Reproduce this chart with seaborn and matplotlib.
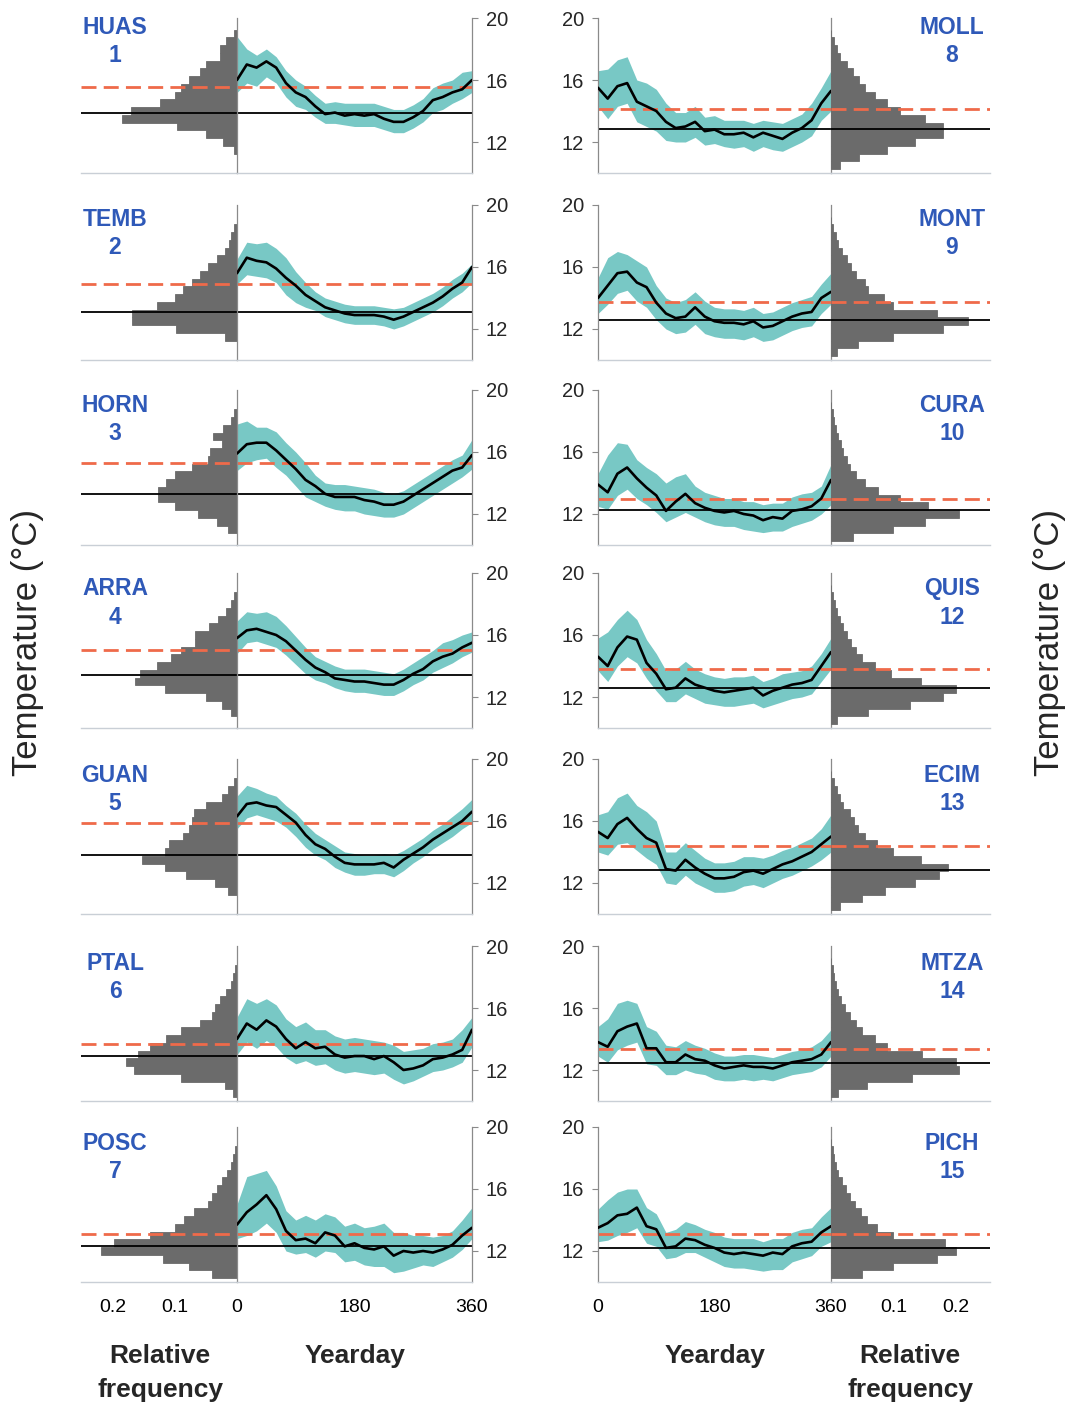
import numpy as np
import pandas as pd
import matplotlib
matplotlib.use("Agg")
import matplotlib.pyplot as plt
import seaborn as sns

sns.set_style("white")
plt.rcParams['font.family'] = ['Liberation Sans', 'DejaVu Sans']

# ---- data ----
days = list(range(0, 361, 15))
hist_bins = [10.5, 11, 11.5, 12, 12.5, 13, 13.5, 14, 14.5, 15, 15.5, 16, 16.5, 17, 17.5, 18, 18.5, 19]

site_names = ["HUAS", "TEMB", "HORN", "ARRA", "GUAN", "PTAL", "POSC",
              "MOLL", "MONT", "CURA", "QUIS", "ECIM", "MTZA", "PICH"]
site_numbers = ["1", "2", "3", "4", "5", "6", "7", "8", "9", "10", "12", "13", "14", "15"]
median_line = [13.9, 13.1, 13.3, 13.4, 13.8, 12.9, 12.3, 12.85, 12.55, 12.25, 12.6, 12.85, 12.45, 12.2]
dashed_line = [15.55, 14.9, 15.3, 15.05, 15.9, 13.65, 13.1, 14.15, 13.75, 12.95, 13.8, 14.4, 13.35, 13.1]

huas_mean = [16.0, 17.0, 16.8, 17.2, 16.8, 15.8, 15.2, 14.9, 14.3, 13.8, 13.9, 13.7, 13.8, 13.7, 13.8, 13.5, 13.3, 13.3, 13.6, 14.0, 14.7, 14.9, 15.2, 15.4, 16.0]
huas_hi = [18.8, 18.0, 17.6, 18.0, 17.5, 16.6, 16.0, 15.6, 15.0, 14.5, 14.6, 14.5, 14.5, 14.5, 14.5, 14.3, 14.1, 14.1, 14.4, 14.8, 15.5, 15.8, 16.0, 16.5, 16.6]
huas_lo = [15.2, 15.8, 15.6, 16.2, 15.8, 14.9, 14.3, 14.1, 13.6, 13.2, 13.2, 13.1, 13.0, 13.0, 13.0, 12.8, 12.6, 12.6, 12.9, 13.3, 13.9, 14.1, 14.5, 14.8, 15.2]
huas_hist = [0, 0, 0.005, 0.022, 0.05, 0.097, 0.185, 0.172, 0.124, 0.10, 0.09, 0.078, 0.06, 0.05, 0.028, 0.028, 0.018, 0.005]

temb_mean = [15.6, 16.6, 16.4, 16.3, 15.9, 15.3, 14.8, 14.2, 13.8, 13.4, 13.2, 13.0, 12.9, 12.9, 12.9, 12.8, 12.6, 12.8, 13.1, 13.4, 13.7, 14.1, 14.6, 15.0, 16.0]
temb_hi = [16.5, 17.6, 17.5, 17.6, 17.2, 16.6, 15.7, 15.0, 14.4, 14.0, 13.8, 13.6, 13.5, 13.5, 13.5, 13.4, 13.3, 13.4, 13.7, 14.0, 14.3, 14.7, 15.2, 15.6, 16.2]
temb_lo = [14.9, 15.5, 15.4, 15.3, 15.0, 14.2, 13.7, 13.4, 13.2, 12.8, 12.6, 12.4, 12.3, 12.3, 12.3, 12.2, 12.0, 12.2, 12.5, 12.8, 13.1, 13.5, 14.0, 14.4, 15.0]
temb_hist = [0, 0, 0.02, 0.099, 0.17, 0.17, 0.13, 0.10, 0.087, 0.073, 0.06, 0.047, 0.032, 0.02, 0.013, 0.01, 0.005, 0]

horn_mean = [15.9, 16.5, 16.6, 16.6, 16.1, 15.5, 14.9, 14.2, 13.8, 13.3, 13.1, 13.1, 13.1, 12.9, 12.8, 12.6, 12.6, 12.8, 13.2, 13.6, 14.0, 14.4, 14.8, 15.0, 15.8]
horn_hi = [17.8, 18.0, 17.6, 17.6, 17.3, 16.6, 16.0, 15.3, 14.5, 14.0, 13.9, 13.9, 13.8, 13.7, 13.6, 13.4, 13.3, 13.5, 13.9, 14.3, 14.7, 15.1, 15.5, 15.8, 16.8]
horn_lo = [14.8, 15.3, 15.5, 15.6, 15.0, 14.5, 13.8, 13.1, 12.8, 12.5, 12.3, 12.2, 12.2, 12.0, 11.9, 11.8, 11.8, 12.0, 12.4, 12.8, 13.2, 13.6, 14.0, 14.4, 14.9]
horn_hist = [0, 0.015, 0.032, 0.063, 0.10, 0.128, 0.128, 0.115, 0.10, 0.073, 0.047, 0.044, 0.025, 0.039, 0.022, 0.01, 0.005, 0]

arra_mean = [15.8, 16.3, 16.4, 16.2, 16.0, 15.6, 15.0, 14.4, 13.9, 13.6, 13.2, 13.1, 13.0, 13.0, 12.9, 12.8, 12.8, 13.1, 13.5, 13.8, 14.3, 14.6, 14.8, 15.2, 15.5]
arra_hi = [16.9, 17.5, 17.4, 17.5, 17.2, 16.6, 15.9, 15.2, 14.6, 14.3, 14.0, 13.8, 13.8, 13.8, 13.7, 13.6, 13.5, 13.8, 14.2, 14.6, 15.0, 15.5, 15.7, 16.0, 16.2]
arra_lo = [14.8, 15.5, 15.6, 15.4, 15.2, 14.7, 14.1, 13.5, 13.1, 12.9, 12.6, 12.4, 12.3, 12.3, 12.2, 12.1, 12.1, 12.4, 12.8, 13.1, 13.6, 13.9, 14.2, 14.6, 14.9]
arra_hist = [0, 0.01, 0.025, 0.05, 0.116, 0.164, 0.156, 0.13, 0.107, 0.09, 0.068, 0.068, 0.045, 0.03, 0.018, 0.01, 0.005, 0]

guan_mean = [16.3, 17.1, 17.2, 17.0, 16.9, 16.4, 15.9, 15.1, 14.5, 14.2, 13.7, 13.3, 13.2, 13.2, 13.2, 13.3, 13.0, 13.5, 13.9, 14.3, 14.8, 15.2, 15.6, 16.0, 16.6]
guan_hi = [17.6, 18.3, 18.1, 17.8, 17.6, 17.0, 16.5, 15.8, 15.2, 14.8, 14.4, 14.0, 13.9, 13.8, 13.8, 13.9, 13.8, 14.1, 14.5, 14.9, 15.4, 15.8, 16.3, 16.8, 17.4]
guan_lo = [15.5, 16.2, 16.4, 16.2, 16.0, 15.6, 15.0, 14.3, 13.8, 13.5, 13.0, 12.7, 12.5, 12.5, 12.6, 12.6, 12.4, 12.8, 13.3, 13.7, 14.2, 14.6, 15.0, 15.5, 15.9]
guan_hist = [0, 0, 0.015, 0.035, 0.083, 0.116, 0.153, 0.116, 0.11, 0.087, 0.078, 0.073, 0.07, 0.05, 0.025, 0.015, 0.005, 0]

ptal_mean = [14.0, 15.0, 14.6, 15.2, 14.8, 14.0, 13.4, 13.8, 13.4, 13.5, 13.0, 12.8, 12.9, 12.9, 12.7, 12.9, 12.5, 12.0, 12.1, 12.3, 12.7, 12.8, 13.0, 13.3, 14.6]
ptal_hi = [15.4, 16.6, 16.3, 16.6, 16.2, 15.3, 14.8, 15.1, 14.6, 14.6, 14.2, 14.0, 14.1, 14.0, 13.9, 13.8, 13.6, 13.2, 13.3, 13.4, 13.7, 13.8, 14.0, 14.6, 15.4]
ptal_lo = [13.0, 13.8, 13.4, 13.9, 13.5, 12.8, 12.4, 12.6, 12.3, 12.4, 12.0, 11.8, 11.9, 11.8, 11.7, 11.8, 11.4, 11.1, 11.3, 11.6, 11.9, 12.0, 12.2, 12.5, 13.5]
ptal_hist = [0.006, 0.02, 0.09, 0.166, 0.18, 0.16, 0.14, 0.115, 0.09, 0.06, 0.04, 0.035, 0.028, 0.018, 0.01, 0.006, 0.003, 0]

posc_mean = [13.7, 14.5, 15.0, 15.6, 14.7, 13.3, 12.7, 12.8, 12.5, 13.2, 13.0, 12.3, 12.5, 12.2, 12.1, 12.3, 11.7, 12.0, 11.9, 12.0, 11.9, 12.1, 12.4, 13.0, 13.5]
posc_hi = [15.0, 16.8, 17.0, 17.2, 16.2, 14.6, 14.0, 14.3, 14.0, 14.4, 14.2, 13.6, 13.8, 13.5, 13.6, 13.8, 13.2, 13.2, 13.0, 13.0, 12.9, 13.0, 13.3, 14.0, 14.8]
posc_lo = [12.8, 13.0, 13.3, 13.8, 13.2, 12.0, 11.8, 11.9, 11.6, 12.0, 11.9, 11.3, 11.4, 11.1, 11.0, 11.0, 10.6, 10.7, 10.9, 11.1, 11.0, 11.3, 11.6, 12.1, 12.8]
posc_hist = [0.04, 0.078, 0.12, 0.22, 0.198, 0.14, 0.1, 0.085, 0.07, 0.047, 0.04, 0.032, 0.024, 0.016, 0.01, 0.006, 0.003, 0]

moll_mean = [15.5, 14.8, 15.6, 15.8, 14.6, 14.3, 14.0, 13.3, 12.9, 13.0, 13.3, 12.7, 12.8, 12.5, 12.5, 12.6, 12.3, 12.6, 12.4, 12.2, 12.6, 12.9, 13.4, 14.5, 15.3]
moll_hi = [16.6, 16.7, 17.3, 17.5, 16.0, 15.8, 15.4, 14.5, 13.9, 13.9, 14.3, 13.6, 13.7, 13.4, 13.4, 13.4, 13.2, 13.4, 13.3, 13.2, 13.5, 13.8, 14.5, 15.5, 16.6]
moll_lo = [14.3, 13.5, 14.3, 14.5, 13.3, 13.0, 12.7, 12.1, 12.0, 12.0, 12.3, 11.8, 11.9, 11.7, 11.6, 11.7, 11.4, 11.7, 11.5, 11.4, 11.7, 12.0, 12.4, 13.4, 14.0]
moll_hist = [0.015, 0.045, 0.09, 0.135, 0.18, 0.18, 0.15, 0.11, 0.09, 0.07, 0.055, 0.045, 0.035, 0.025, 0.015, 0.01, 0.005, 0]

mont_mean = [14.0, 14.8, 15.6, 15.7, 15.0, 14.7, 13.7, 13.0, 12.7, 12.8, 13.4, 12.8, 12.5, 12.4, 12.4, 12.3, 12.5, 12.1, 12.2, 12.5, 12.8, 13.0, 13.1, 14.0, 14.4]
mont_hi = [15.3, 16.6, 17.0, 16.8, 16.4, 16.0, 14.8, 14.0, 13.7, 13.9, 14.4, 13.8, 13.4, 13.3, 13.3, 13.2, 13.4, 13.0, 13.1, 13.4, 13.7, 13.9, 14.1, 14.9, 15.6]
mont_lo = [13.0, 13.6, 14.3, 14.5, 13.8, 13.4, 12.6, 12.0, 11.7, 11.8, 12.3, 11.7, 11.5, 11.4, 11.4, 11.3, 11.5, 11.2, 11.3, 11.6, 11.9, 12.1, 12.2, 13.0, 13.6]
mont_hist = [0.01, 0.044, 0.10, 0.18, 0.22, 0.17, 0.10, 0.085, 0.06, 0.055, 0.04, 0.032, 0.025, 0.018, 0.012, 0.008, 0.004, 0]

cura_mean = [13.9, 13.4, 14.6, 15.0, 14.3, 13.7, 13.2, 12.2, 12.8, 13.3, 12.7, 12.4, 12.2, 12.1, 12.2, 12.0, 11.9, 11.6, 11.8, 11.7, 12.2, 12.3, 12.5, 13.0, 14.2]
cura_hi = [14.6, 15.8, 16.6, 16.5, 15.5, 15.0, 14.6, 14.0, 14.4, 14.6, 13.8, 13.4, 13.2, 13.0, 13.0, 12.8, 12.8, 12.6, 12.7, 12.7, 13.1, 13.3, 13.4, 13.8, 15.2]
cura_lo = [12.5, 12.3, 13.2, 13.6, 13.0, 12.6, 12.1, 11.5, 11.8, 12.1, 11.8, 11.5, 11.3, 11.2, 11.2, 11.0, 10.9, 10.8, 10.9, 10.9, 11.2, 11.4, 11.6, 12.0, 12.6]
cura_hist = [0.035, 0.10, 0.15, 0.205, 0.155, 0.11, 0.075, 0.055, 0.04, 0.03, 0.025, 0.02, 0.016, 0.012, 0.008, 0.005, 0.003, 0]

quis_mean = [14.6, 14.0, 15.2, 15.9, 15.7, 14.2, 13.5, 12.5, 12.6, 13.2, 12.8, 12.6, 12.4, 12.3, 12.4, 12.5, 12.6, 12.1, 12.4, 12.6, 12.8, 12.9, 13.1, 14.0, 14.9]
quis_hi = [15.8, 16.2, 17.0, 17.6, 17.0, 15.7, 14.8, 13.7, 13.8, 14.3, 13.8, 13.5, 13.3, 13.2, 13.3, 13.3, 13.4, 13.0, 13.2, 13.5, 13.6, 13.7, 14.0, 14.8, 15.8]
quis_lo = [13.7, 13.0, 14.0, 14.6, 14.2, 13.2, 12.4, 11.7, 11.7, 12.2, 11.9, 11.6, 11.5, 11.4, 11.4, 11.5, 11.6, 11.3, 11.5, 11.7, 11.9, 12.0, 12.2, 13.0, 13.8]
quis_hist = [0.01, 0.06, 0.126, 0.18, 0.20, 0.145, 0.097, 0.07, 0.05, 0.04, 0.032, 0.025, 0.02, 0.015, 0.01, 0.006, 0.003, 0]

ecim_mean = [15.3, 14.9, 15.8, 16.2, 15.5, 14.9, 14.6, 12.9, 12.8, 13.5, 13.0, 12.6, 12.3, 12.3, 12.4, 12.7, 12.8, 12.6, 12.9, 13.2, 13.4, 13.7, 14.0, 14.5, 15.0]
ecim_hi = [16.4, 16.6, 17.5, 17.8, 17.0, 16.6, 16.0, 14.0, 14.0, 14.6, 14.1, 13.6, 13.3, 13.3, 13.4, 13.7, 13.7, 13.6, 13.8, 14.1, 14.3, 14.6, 14.9, 15.5, 16.4]
ecim_lo = [14.0, 13.8, 14.5, 14.6, 14.1, 13.6, 13.2, 12.0, 11.9, 12.5, 12.0, 11.7, 11.4, 11.4, 11.5, 11.8, 11.9, 11.7, 12.0, 12.3, 12.5, 12.8, 13.1, 13.5, 14.0]
ecim_hist = [0.015, 0.05, 0.087, 0.135, 0.174, 0.188, 0.145, 0.10, 0.073, 0.054, 0.044, 0.037, 0.03, 0.02, 0.015, 0.009, 0.005, 0]

mtza_mean = [13.8, 13.5, 14.5, 14.8, 15.0, 13.4, 13.4, 12.5, 12.5, 13.0, 12.7, 12.6, 12.3, 12.1, 12.2, 12.3, 12.2, 12.2, 12.1, 12.3, 12.5, 12.6, 12.7, 13.0, 13.8]
mtza_hi = [14.8, 15.3, 16.3, 16.5, 16.3, 14.8, 14.5, 13.6, 13.5, 13.9, 13.6, 13.4, 13.1, 12.9, 12.9, 13.0, 13.0, 12.9, 12.8, 13.0, 13.2, 13.3, 13.5, 13.9, 14.6]
mtza_lo = [12.9, 12.5, 13.3, 13.6, 13.8, 12.4, 12.3, 11.7, 11.7, 12.0, 11.8, 11.7, 11.4, 11.3, 11.3, 11.4, 11.3, 11.4, 11.3, 11.5, 11.7, 11.8, 11.9, 12.2, 12.9]
mtza_hist = [0.012, 0.057, 0.13, 0.205, 0.20, 0.146, 0.09, 0.07, 0.05, 0.04, 0.03, 0.022, 0.016, 0.011, 0.008, 0.005, 0.003, 0]

pich_mean = [13.5, 13.8, 14.3, 14.4, 14.8, 13.6, 13.4, 12.2, 12.3, 12.8, 12.7, 12.4, 12.2, 11.9, 11.8, 11.9, 11.8, 11.7, 11.9, 11.8, 12.3, 12.5, 12.6, 13.2, 13.6]
pich_hi = [14.7, 15.3, 15.8, 16.0, 16.0, 14.8, 14.4, 13.2, 13.4, 13.9, 13.7, 13.4, 13.2, 12.9, 12.8, 12.8, 12.8, 12.6, 12.8, 12.8, 13.2, 13.4, 13.5, 14.2, 14.8]
pich_lo = [12.6, 12.7, 13.0, 13.2, 13.5, 12.5, 12.3, 11.5, 11.6, 11.9, 11.9, 11.6, 11.3, 11.0, 10.9, 10.9, 10.8, 10.7, 10.8, 10.8, 11.3, 11.5, 11.7, 12.3, 12.6]
pich_hist = [0.05, 0.10, 0.17, 0.20, 0.183, 0.10, 0.073, 0.058, 0.048, 0.038, 0.03, 0.024, 0.018, 0.012, 0.008, 0.005, 0.003, 0]

means = [huas_mean, temb_mean, horn_mean, arra_mean, guan_mean, ptal_mean, posc_mean,
         moll_mean, mont_mean, cura_mean, quis_mean, ecim_mean, mtza_mean, pich_mean]
highs = [huas_hi, temb_hi, horn_hi, arra_hi, guan_hi, ptal_hi, posc_hi,
         moll_hi, mont_hi, cura_hi, quis_hi, ecim_hi, mtza_hi, pich_hi]
lows = [huas_lo, temb_lo, horn_lo, arra_lo, guan_lo, ptal_lo, posc_lo,
        moll_lo, mont_lo, cura_lo, quis_lo, ecim_lo, mtza_lo, pich_lo]
hists = [huas_hist, temb_hist, horn_hist, arra_hist, guan_hist, ptal_hist, posc_hist,
         moll_hist, mont_hist, cura_hist, quis_hist, ecim_hist, mtza_hist, pich_hist]

# ---- layout (pixels) ----
W, H = 1069, 1406
row_tops = [18, 205, 390, 573, 759, 946, 1127]
label_y = [27, 219, 405, 589, 775, 963, 1143]
panel_h = 155
teal = "#78c8c5"
orange = "#ef6a4a"
grey = "#6b6b6b"
blue = "#2f59b8"
spine_c = "#8a8a8a"
base_c = "#c9cfd6"
dash = (5.4, 2.6)

fig = plt.figure(figsize=(W / 100, H / 100), dpi=100)
fig.patch.set_facecolor("white")


def box(x0, x1, top):
    return [x0 / W, 1 - (top + panel_h) / H, (x1 - x0) / W, panel_h / H]


for i, name in enumerate(site_names):
    col = 0 if i < 7 else 1
    row = i % 7
    top = row_tops[row]
    last = row == 6
    if col == 0:
        ax_h = fig.add_axes(box(81, 237, top))
        ax_t = fig.add_axes(box(237, 472, top))
    else:
        ax_t = fig.add_axes(box(598, 831, top))
        ax_h = fig.add_axes(box(831, 990, top))

    # time series: daily band + mean
    df = pd.DataFrame({"day": days, "mean": means[i], "lo": lows[i], "hi": highs[i]})
    ax_t.fill_between(df["day"], df["lo"], df["hi"], color=teal, lw=0, zorder=1)
    ax_t.axhline(median_line[i], color="black", lw=1.3, zorder=2)
    ax_t.axhline(dashed_line[i], color=orange, lw=2.0, dashes=dash, zorder=2)
    sns.lineplot(data=df, x="day", y="mean", ax=ax_t, color="black", lw=1.9, zorder=3)
    ax_t.set_xlim(0, 360)
    ax_t.set_ylim(10, 20)
    ax_t.set_xlabel("")
    ax_t.set_ylabel("")

    # histogram of temperature
    ax_h.barh(hist_bins, hists[i], height=0.5, color=grey, edgecolor=grey, lw=0.6, zorder=1)
    ax_h.axhline(median_line[i], color="black", lw=1.3, zorder=2)
    ax_h.axhline(dashed_line[i], color=orange, lw=2.0, dashes=dash, zorder=2)
    ax_h.set_ylim(10, 20)
    if col == 0:
        ax_h.set_xlim(0.252, 0)
    else:
        ax_h.set_xlim(0, 0.255)

    for ax in (ax_t, ax_h):
        ax.set_facecolor("none")
        ax.spines["top"].set_visible(False)
        ax.spines["bottom"].set_color(base_c)
        ax.spines["bottom"].set_linewidth(1.0)
        ax.tick_params(axis="x", direction="out", length=3, color=base_c,
                       labelsize=14, pad=9, labelcolor="black")

    ax_h.spines["left"].set_visible(False)
    ax_h.spines["right"].set_visible(False)
    ax_h.set_yticks([])
    ax_h.set_xticks([0.1, 0.2])
    ax_h.set_xticklabels(["0.1", "0.2"] if last else ["", ""])

    ax_t.set_xticks(range(0, 361, 20))
    ax_t.set_xticklabels(["0" if d == 0 else "180" if d == 180 else "360" if d == 360 else ""
                          for d in range(0, 361, 20)] if last else [])
    ax_t.set_yticks([12, 16, 20])
    ax_t.set_yticklabels(["12", "16", "20"])
    ax_t.tick_params(axis="y", direction="out", length=4, color=spine_c,
                     labelsize=14.5, pad=6)
    for s in ("left", "right"):
        ax_t.spines[s].set_color(spine_c)
        ax_t.spines[s].set_linewidth(0.9)
    if col == 0:
        ax_t.yaxis.tick_right()
    else:
        ax_t.yaxis.tick_left()

    cx = 115 if col == 0 else 952
    fig.text(cx / W, 1 - label_y[row] / H, name, ha="center", va="center",
             fontsize=16.5, fontweight="bold", color=blue)
    fig.text(cx / W, 1 - (label_y[row] + 28) / H, site_numbers[i], ha="center", va="center",
             fontsize=16.5, fontweight="bold", color=blue)

# axis titles
fig.text(28 / W, 1 - 642 / H, "Temperature (°C)", rotation=90, ha="center", va="center", fontsize=25)
fig.text(1050 / W, 1 - 642 / H, "Temperature (°C)", rotation=90, ha="center", va="center", fontsize=25)
fig.text(355 / W, 1 - 1356 / H, "Yearday", ha="center", va="center", fontsize=19, fontweight="bold")
fig.text(715 / W, 1 - 1356 / H, "Yearday", ha="center", va="center", fontsize=19, fontweight="bold")
for cx in (160, 910):
    fig.text(cx / W, 1 - 1356 / H, "Relative", ha="center", va="center", fontsize=19, fontweight="bold")
    fig.text(cx / W, 1 - 1390 / H, "frequency", ha="center", va="center", fontsize=19, fontweight="bold")

fig.savefig("out.png", dpi=100, facecolor="white")
